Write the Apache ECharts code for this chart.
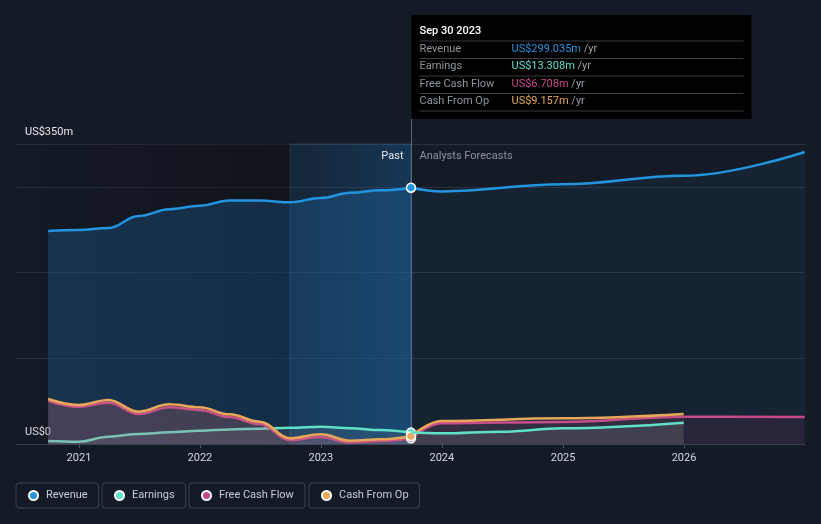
<!DOCTYPE html>
<html>
<head>
<meta charset="utf-8">
<script src="https://cdn.jsdelivr.net/npm/echarts@6/dist/echarts.min.js"></script>
<style>
html,body{margin:0;padding:0;background:#151b26;}
#c{width:821px;height:524px;}
</style>
</head>
<body>
<div id="c"></div>
<script>
// ---- data ----
const pastDates = ['2020-09-30','2020-12-31','2021-03-31','2021-06-30','2021-09-30','2021-12-31','2022-03-31','2022-06-30','2022-09-30','2022-12-31','2023-03-31','2023-06-30','2023-09-30'];
const revenuePast  = [248.5,249.7,252,266,274,278,284,284,282,287,293,296,299.035];
const earningsPast = [3.5,2.7,8.5,11.7,13.6,15.5,17,17.9,19,20.2,18.3,16.3,13.308];
const fcfPast      = [50.5,43.5,48,35,43,39.7,31.5,23.3,4.7,8.2,1.8,3.5,6.708];
const cfoPast      = [52.5,45.5,51.3,37.7,46.3,42.8,34.6,26,6.6,11.3,3.9,5.5,9.157];

const revFcDates = ['2023-09-30','2023-12-31','2024-12-31','2025-12-31','2026-12-31'];
const revenueFc  = [299.035,294.7,303,313,340.7];
const earnFcDates = ['2023-09-30','2023-12-31','2024-06-30','2024-12-31','2025-12-31'];
const earningsFc  = [13.308,12.4,14.4,18.5,24.9];
const fcfFcDates = ['2023-09-30','2023-12-31','2024-12-31','2025-12-31','2026-12-31'];
const fcfFc      = [6.708,24.1,25.8,31.9,31.5];
const cfoFcDates = ['2023-09-30','2023-12-31','2024-12-31','2025-12-31'];
const cfoFc      = [9.157,26.8,30,35];

const yearTicks = ['2021-01-01','2022-01-01','2023-01-01','2024-01-01','2025-01-01','2026-01-01'];
const yTickLabels = {0:'US$0', 350:'US$350m'};
const seriesNames = ['Revenue','Earnings','Free Cash Flow','Cash From Op'];
const colors = ['#2394df','#5fe0c9','#c9488a','#e8a857'];
const tipDate = '2023-09-30';
const tipTitle = 'Sep 30 2023';
const tipValues = ['US$299.035m','US$13.308m','US$6.708m','US$9.157m'];
const highlightStart = '2022-09-30';
const xMin = '2020-06-25', xMax = '2027-01-01';

// ---- chart ----
const chart = echarts.init(document.getElementById('c'));
const FONT = 'Roboto, "Noto Sans", sans-serif';
const FS = 11;
const ts = d => +new Date(d + 'T00:00:00Z');

function mk(dates, vals, markDate, size) {
  return dates.map((d, i) => {
    const item = { value: [ts(d), vals[i]] };
    if (d === markDate) { item.symbol = 'circle'; item.symbolSize = size; }
    else { item.symbol = 'none'; }
    return item;
  });
}

function lineSeries(name, color, data, area, z, extra) {
  return Object.assign({
    name, type: 'line', data, smooth: 0.4, smoothMonotone: 'x',
    showSymbol: true, z,
    lineStyle: { color, width: 2.5 },
    itemStyle: { color, borderColor: '#ffffff', borderWidth: 1.5 },
    areaStyle: area ? { color: area, origin: 'start' } : undefined,
    emphasis: { disabled: true },
    animation: false
  }, extra || {});
}

const legends = seriesNames.map((n, i) => ({
  data: [n],
  left: [16, 102, 189, 309][i],
  top: 483,
  icon: 'circle',
  itemWidth: 9, itemHeight: 9,
  padding: [5, 11, 5, 12],
  borderColor: '#3b4250', borderWidth: 1, borderRadius: 3,
  selectedMode: false,
  textStyle: { color: '#c9cdd3', fontFamily: FONT, fontSize: FS, lineHeight: 15, padding: [0, 0, 0, 3] }
}));

const option = {
  backgroundColor: '#151b26',
  animation: false,
  legend: legends,
  grid: { left: 16, right: 16, top: 144, bottom: 80 },
  xAxis: {
    type: 'value', min: ts(xMin), max: ts(xMax),
    axisLine: { lineStyle: { color: '#3d434d', width: 1 } },
    axisTick: { show: true, customValues: yearTicks.map(ts), length: 4, lineStyle: { color: '#4a505a' } },
    axisLabel: {
      customValues: yearTicks.map(ts), color: '#d4d8dd', fontFamily: FONT, fontSize: FS, margin: 9,
      formatter: v => String(new Date(v).getUTCFullYear())
    },
    splitLine: { show: false }
  },
  yAxis: {
    type: 'value', min: 0, max: 350, interval: 100,
    axisLine: { show: false }, axisTick: { show: false },
    splitLine: { lineStyle: { color: '#2a313c', width: 1 } },
    axisLabel: {
      inside: true, margin: 9, verticalAlign: 'bottom', padding: [0, 0, 6, 0],
      color: '#e6e9ed', fontFamily: FONT, fontSize: FS,
      formatter: v => yTickLabels[v] || ''
    }
  },
  series: [
    lineSeries('Revenue', colors[0], mk(pastDates, revenuePast, tipDate, 9), 'rgba(35,120,190,0.38)', 5, {
      markArea: {
        silent: true,
        data: [
          [{ xAxis: ts(xMin), itemStyle: { color: new echarts.graphic.LinearGradient(0, 0, 1, 0, [
              { offset: 0, color: 'rgba(8,10,16,0.05)' }, { offset: 1, color: 'rgba(8,10,16,0.45)' }]) } },
           { xAxis: ts(highlightStart) }],
          [{ xAxis: ts(highlightStart), itemStyle: { color: new echarts.graphic.LinearGradient(0, 0, 1, 0, [
              { offset: 0, color: 'rgba(20,70,110,0.25)' }, { offset: 1, color: 'rgba(25,90,145,0.45)' }]),
              borderColor: 'rgba(60,110,150,0.35)', borderWidth: 1 } },
           { xAxis: ts(tipDate) }]
        ]
      },
      markLine: {
        silent: true, symbol: 'none', label: { show: false },
        lineStyle: { color: 'rgba(150,160,175,0.55)', width: 1, type: 'solid' },
        data: [{ xAxis: ts(tipDate) }]
      }
    }),
    lineSeries('Revenue', colors[0], mk(revFcDates, revenueFc, '', 0), 'rgba(35,120,190,0.13)', 5),
    lineSeries('Free Cash Flow', colors[2], mk(pastDates, fcfPast, tipDate, 9), 'rgba(201,72,138,0.18)', 6),
    lineSeries('Cash From Op', colors[3], mk(pastDates, cfoPast, tipDate, 9), 'rgba(200,140,120,0.22)', 7),
    lineSeries('Earnings', colors[1], mk(pastDates, earningsPast, tipDate, 9), 'rgba(220,230,235,0.12)', 5.5),
    lineSeries('Cash From Op', colors[3], mk(cfoFcDates, cfoFc, '', 0), 'rgba(200,170,140,0.10)', 7),
    lineSeries('Free Cash Flow', colors[2], mk(fcfFcDates, fcfFc, '', 0), 'rgba(201,72,138,0.13)', 6),
    lineSeries('Earnings', colors[1], mk(earnFcDates, earningsFc, '', 0), 'rgba(220,230,235,0.14)', 8)
  ]
};
chart.setOption(option);

// ---- annotation box anchored at tip date ----
const tx = Math.round(chart.convertToPixel({ xAxisIndex: 0 }, ts(tipDate))) + 0.5;
const yTop = chart.convertToPixel({ yAxisIndex: 0 }, 350);
const rowY = [49, 66.5, 84, 101.5];
const sepY = [41, 58.5, 76, 93.5, 111];
const g = [
  { type: 'line', shape: { x1: tx, y1: 119, x2: tx, y2: yTop }, style: { stroke: 'rgba(150,160,175,0.55)', lineWidth: 1 }, z: 50 },
  { type: 'rect', shape: { x: tx, y: 15, width: 340, height: 104 }, style: { fill: '#000000' }, z: 100 },
  { type: 'text', x: tx + 8, y: 31, style: { text: tipTitle, fill: '#ffffff', font: '500 ' + FS + 'px ' + FONT, verticalAlign: 'middle' }, z: 101 },
  { type: 'text', x: tx - 8, y: 156, style: { text: 'Past', fill: '#e8eaed', font: FS + 'px ' + FONT, align: 'right', verticalAlign: 'middle' }, z: 101 },
  { type: 'text', x: tx + 8, y: 156, style: { text: 'Analysts Forecasts', fill: '#8d939b', font: FS + 'px ' + FONT, align: 'left', verticalAlign: 'middle' }, z: 101 }
];
sepY.forEach(y => g.push({ type: 'line', shape: { x1: tx + 8, y1: y, x2: tx + 332, y2: y }, style: { stroke: '#3a3d42', lineWidth: 1 }, z: 101 }));
seriesNames.forEach((n, i) => {
  g.push({ type: 'text', x: tx + 8, y: rowY[i], style: { text: n, fill: '#8f959c', font: FS + 'px ' + FONT, verticalAlign: 'middle' }, z: 101 });
  g.push({ type: 'text', x: tx + 100, y: rowY[i], style: {
    text: '{v|' + tipValues[i] + '} {u|/yr}', verticalAlign: 'middle', font: FS + 'px ' + FONT,
    rich: { v: { fill: colors[i], font: FS + 'px ' + FONT }, u: { fill: '#9aa0a6', font: FS + 'px ' + FONT } }
  }, z: 101 });
});
chart.setOption({ graphic: g });
</script>
</body>
</html>
